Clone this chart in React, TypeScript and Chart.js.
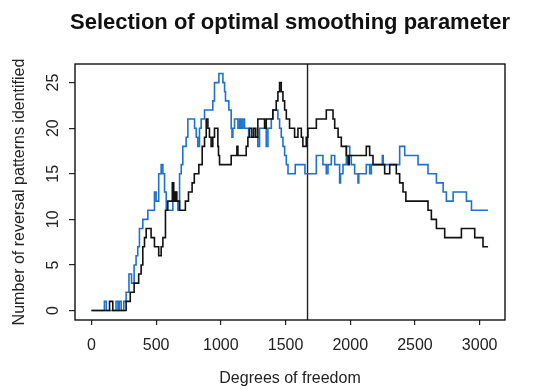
import React, { useEffect, useRef } from "react";
import { Chart, registerables } from "chart.js";

Chart.register(...registerables);

// Degrees of freedom where each step of the black series begins, and its value
const blackX = [0, 140, 165, 268, 300, 330, 365, 384, 397, 410, 423, 461, 487, 520, 539, 552, 572, 590, 625, 636, 648, 660, 681, 726, 750, 778, 795, 830, 856, 874, 887, 900, 912, 925, 938, 951, 977, 982, 990, 1080, 1124, 1132, 1196, 1209, 1222, 1240, 1255, 1270, 1286, 1338, 1351, 1402, 1428, 1441, 1454, 1467, 1480, 1493, 1506, 1531, 1570, 1596, 1622, 1634, 1660, 1673, 1738, 1815, 1867, 1880, 1906, 1931, 1970, 1983, 1992, 2124, 2150, 2176, 2266, 2305, 2356, 2382, 2408, 2430, 2601, 2627, 2666, 2730, 2859, 2962, 3026, 3065];
const blackY = [0, 1, 0, 1, 2, 3, 4, 5, 7, 8, 9, 8, 7, 6, 7, 8, 11, 12, 14, 12, 13, 12, 11, 12, 13, 14, 15, 16, 18, 19, 21, 20, 19, 18, 19, 20, 18, 17, 16, 17, 18, 17, 18, 19, 20, 19, 20, 19, 21, 20, 21, 22, 23, 24, 25, 24, 23, 22, 21, 20, 19, 20, 19, 18, 19, 20, 21, 22, 21, 20, 19, 18, 17, 16, 17, 18, 17, 16, 15, 16, 15, 14, 13, 12, 11, 10, 9, 8, 9, 8, 7, 7];

// Blue series
const blueX = [0, 100, 115, 190, 205, 215, 230, 250, 268, 290, 310, 330, 345, 358, 371, 397, 436, 487, 500, 520, 539, 552, 565, 578, 629, 655, 668, 681, 694, 706, 732, 745, 797, 810, 822, 835, 848, 874, 938, 951, 985, 1016, 1029, 1036, 1062, 1080, 1086, 1093, 1106, 1132, 1145, 1157, 1170, 1183, 1215, 1286, 1299, 1351, 1364, 1390, 1402, 1441, 1454, 1467, 1480, 1493, 1506, 1519, 1575, 1650, 1738, 1789, 1815, 1828, 1854, 1880, 1918, 1925, 1944, 1970, 1996, 2008, 2034, 2060, 2066, 2124, 2150, 2163, 2248, 2255, 2382, 2421, 2524, 2601, 2666, 2718, 2743, 2795, 2898, 2937, 3065];
const blueY = [0, 1, 0, 1, 0, 1, 0, 1, 2, 4, 3, 5, 6, 7, 9, 10, 11, 13, 12, 15, 16, 15, 13, 11, 13, 12, 11, 15, 16, 18, 19, 21, 20, 19, 18, 20, 21, 22, 23, 25, 26, 25, 24, 23, 22, 20, 19, 20, 21, 20, 21, 20, 21, 20, 19, 18, 20, 18, 20, 21, 22, 21, 20, 19, 18, 17, 16, 15, 16, 15, 17, 16, 15, 16, 17, 16, 14, 15, 16, 18, 17, 16, 15, 14, 15, 16, 15, 16, 17, 16, 18, 17, 16, 15, 14, 13, 12, 13, 12, 11, 11];

const optimalDf = 1670;

const xTicks = [0, 500, 1000, 1500, 2000, 2500, 3000];
const yTicks = [0, 5, 10, 15, 20, 25];

const titleText = "Selection of optimal smoothing parameter";
const xTitle = "Degrees of freedom";
const yTitle = "Number of reversal patterns identified";

const FONT = '"Liberation Sans", Arial, Helvetica, sans-serif';

export default function App() {
  const ref = useRef<HTMLCanvasElement>(null);

  useEffect(() => {
    if (!ref.current) return;
    const boxPlugin = {
      id: "rbox",
      afterDatasetsDraw(chart: any) {
        const { ctx, chartArea: a } = chart;
        ctx.save();
        ctx.strokeStyle = "#111";
        ctx.lineWidth = 1.4;
        ctx.strokeRect(a.left, a.top, a.right - a.left, a.bottom - a.top);
        ctx.restore();
      },
      afterDraw(chart: any) {
        const { ctx, chartArea: a } = chart;
        ctx.save();
        ctx.fillStyle = "#111";
        ctx.font = `bold 22px ${FONT}`;
        ctx.textAlign = "center";
        ctx.textBaseline = "alphabetic";
        ctx.fillText(titleText, (a.left + a.right) / 2, 28.5);
        ctx.restore();
      },
    };

    const chart = new Chart(ref.current, {
      type: "line",
      data: {
        datasets: [
          {
            data: blackX.map((x, i) => ({ x, y: blackY[i] })),
            borderColor: "#111111",
            borderWidth: 1.6,
            stepped: true,
            pointRadius: 0,
            fill: false,
          },
          {
            data: blueX.map((x, i) => ({ x, y: blueY[i] })),
            borderColor: "#1F71CC",
            borderWidth: 1.6,
            stepped: true,
            pointRadius: 0,
            fill: false,
          },
          {
            data: [
              { x: optimalDf, y: -5 },
              { x: optimalDf, y: 40 },
            ],
            borderColor: "#222222",
            borderWidth: 1.4,
            pointRadius: 0,
            fill: false,
          },
        ],
      },
      options: {
        responsive: false,
        animation: false,
        events: [],
        layout: { padding: { left: 0, right: 28, top: 64, bottom: 0 } },
        plugins: {
          legend: { display: false },
          tooltip: { enabled: false },
          title: { display: false },
        },
        scales: {
          x: {
            type: "linear",
            min: -127,
            max: 3196,
            afterBuildTicks: (s: any) => {
              s.ticks = xTicks.map((v) => ({ value: v }));
            },
            afterFit: (s: any) => {
              s.height = 70;
            },
            grid: { drawOnChartArea: false, drawTicks: true, tickLength: 5, color: "#222", lineWidth: 1.2 },
            border: { display: false },
            ticks: {
              color: "#222",
              font: { family: FONT, size: 16 },
              padding: 11,
              maxRotation: 0,
              autoSkip: false,
              callback: (v: any) => String(v),
            },
            title: {
              display: true,
              text: xTitle,
              color: "#222",
              font: { family: FONT, size: 16 },
              padding: { top: 0, bottom: 1.5 },
            },
          },
          y: {
            type: "linear",
            min: -1.04,
            max: 27.04,
            afterBuildTicks: (s: any) => {
              s.ticks = yTicks.map((v) => ({ value: v }));
            },
            afterFit: (s: any) => {
              s.width = 75;
            },
            grid: { drawOnChartArea: false, drawTicks: true, tickLength: 6, color: "#222", lineWidth: 1.2 },
            border: { display: false },
            ticks: {
              color: "#222",
              font: { family: FONT, size: 16 },
              padding: 7,
              minRotation: 90,
              maxRotation: 90,
              crossAlign: "center",
              autoSkip: false,
              callback: (v: any) => String(v),
            },
            title: {
              display: true,
              text: yTitle,
              color: "#222",
              font: { family: FONT, size: 16 },
              padding: { top: 10, bottom: 0 },
            },
          },
        },
      },
      plugins: [boxPlugin],
    } as any);

    return () => chart.destroy();
  }, []);

  return (
    <div style={{ position: "absolute", left: 0, top: 0, width: 533, height: 390, background: "#fff" }}>
      <canvas ref={ref} width={533} height={390} style={{ display: "block" }} />
    </div>
  );
}
